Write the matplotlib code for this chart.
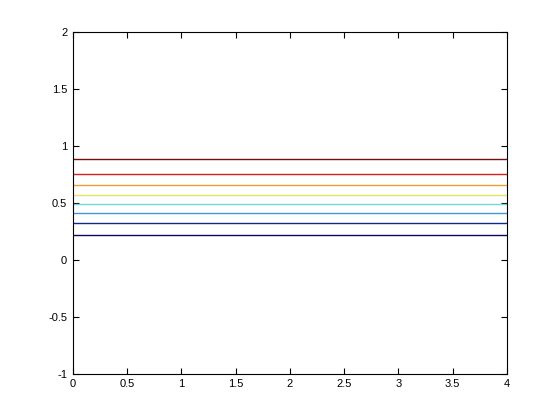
import numpy as np
import matplotlib
matplotlib.use("Agg")
import matplotlib.pyplot as plt

# horizontal levels, bottom to top
levels = [0.214, 0.322, 0.407, 0.488, 0.567, 0.655, 0.748, 0.880]
colors = ["#0a0a5a", "#10288c", "#3a9ad8", "#70dcd0",
          "#e4e460", "#e8a030", "#d42020", "#701010"]
x_span = [0, 4]

xticks = [0, 0.5, 1, 1.5, 2, 2.5, 3, 3.5, 4]
xticklabels = ["0", "0.5", "1", "1.5", "2", "2.5", "3", "3.5", "4"]
yticks = [-1, -0.5, 0, 0.5, 1, 1.5, 2]
yticklabels = ["-1", "-0.5", "0", "0.5", "1", "1.5", "2"]

plt.rcParams["font.family"] = ["Liberation Sans", "DejaVu Sans"]

fig = plt.figure(figsize=(5.6, 4.2), dpi=100)
ax = fig.add_axes([0.13, 0.11, 0.775, 0.815])

for lev, c in zip(levels, colors):
    ax.plot(x_span, [lev, lev], color=c, linewidth=1.0)

ax.set_xlim(0, 4)
ax.set_ylim(-1, 2)
ax.set_xticks(xticks)
ax.set_xticklabels(xticklabels)
ax.set_yticks(yticks)
ax.set_yticklabels(yticklabels)
ax.tick_params(direction="in", top=True, right=True, length=4.5,
               width=0.8, labelsize=8, pad=4)
for s in ax.spines.values():
    s.set_linewidth(0.8)

fig.savefig("out.png", dpi=100)
